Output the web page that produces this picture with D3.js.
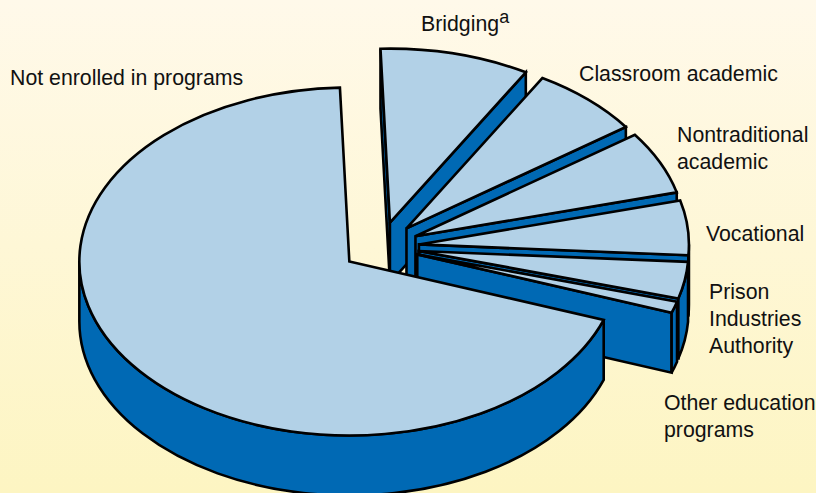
<!DOCTYPE html>
<html>
<head>
<meta charset="utf-8">
<script src="https://cdn.jsdelivr.net/npm/d3@7/dist/d3.min.js"></script>
<style>
  html, body { margin: 0; padding: 0; background: #fdf6c6; }
  svg { display: block; }
  text { font-family: "Liberation Sans", Arial, sans-serif; font-size: 21.3px; fill: #111; }
</style>
</head>
<body>
<svg id="chart" width="816" height="493"></svg>
<script>
// slices go clockwise, starting from the one just right of 12 o'clock
var categories = ["Bridging", "Classroom academic", "Nontraditional academic", "Vocational",
  "Prison Industries Authority", "Other education programs", "Not enrolled in programs"];
var shares = [8.95, 6.7, 5.85, 5.05, 3.4, 1.05, 69];

var labelLines = [["Bridging"], ["Classroom academic"], ["Nontraditional", "academic"], ["Vocational"],
  ["Prison", "Industries", "Authority"], ["Other education", "programs"], ["Not enrolled in programs"]];
var labelX = [421, 579, 677, 706, 709, 664, 10];
var labelY = [31, 81, 142, 241, 299, 410, 85];
var lineGap = [0, 0, 27, 0, 27, 27, 0];

var width = 816, height = 493;
var cx = 380.5, cy = 246.8;   // pie centre before the slices get pulled out
var rx = 270, ry = 174;
var depth = 60;
var explode = 0.143;
var startDeg = -2;
var lightBlue = "#b2d1e7", darkBlue = "#0069b4";

var svg = d3.select("#chart");

var grad = svg.append("defs").append("linearGradient")
  .attr("id", "bg").attr("x1", 0).attr("y1", 0).attr("x2", 0).attr("y2", 1);
grad.append("stop").attr("offset", "0%").attr("stop-color", "#fff9ea");
grad.append("stop").attr("offset", "100%").attr("stop-color", "#fdf5c2");

svg.append("rect").attr("width", width).attr("height", height).attr("fill", "url(#bg)");

var toRad = Math.PI / 180;
var pie = d3.pie().sort(null)
  .startAngle(startDeg * toRad)
  .endAngle((startDeg + 360) * toRad);
var slices = pie(shares);

var arc = d3.arc().innerRadius(0).outerRadius(rx);

function px(a, ox) { return ox + rx * Math.sin(a); }
function py(a, oy) { return oy - ry * Math.cos(a); }

// the angle may sit past a full turn (or below zero) so fold it for the side tests
function fold(a) {
  var t = 2 * Math.PI;
  return ((a % t) + t) % t;
}

function radialWall(a, ox, oy) {
  return "M" + ox + "," + oy +
    "L" + px(a, ox) + "," + py(a, oy) +
    "L" + px(a, ox) + "," + (py(a, oy) + depth) +
    "L" + ox + "," + (oy + depth) + "Z";
}

function outerWall(a0, a1, ox, oy) {
  var large = a1 - a0 > Math.PI ? 1 : 0;
  return "M" + px(a0, ox) + "," + py(a0, oy) +
    "A" + rx + "," + ry + " 0 " + large + " 1 " + px(a1, ox) + "," + py(a1, oy) +
    "L" + px(a1, ox) + "," + (py(a1, oy) + depth) +
    "A" + rx + "," + ry + " 0 " + large + " 0 " + px(a0, ox) + "," + (py(a0, oy) + depth) + "Z";
}

var g = svg.append("g")
  .attr("stroke", "#000")
  .attr("stroke-width", 2.6)
  .attr("stroke-linejoin", "miter");

// back to front, the big slice comes last
slices.forEach(function (d) {
  var mid = (d.startAngle + d.endAngle) / 2;
  var ox = cx + explode * rx * Math.sin(mid);
  var oy = cy - explode * ry * Math.cos(mid);
  var piece = g.append("g").attr("class", "slice");

  // end edge faces the viewer on the right half, start edge on the left half
  if (fold(d.startAngle) > Math.PI) {
    piece.append("path").attr("d", radialWall(d.startAngle, ox, oy)).attr("fill", darkBlue);
  }
  if (fold(d.endAngle) < Math.PI) {
    piece.append("path").attr("d", radialWall(d.endAngle, ox, oy)).attr("fill", darkBlue);
  }

  var a0 = Math.max(d.startAngle, Math.PI / 2);
  var a1 = Math.min(d.endAngle, 3 * Math.PI / 2);
  if (a1 > a0) {
    piece.append("path").attr("d", outerWall(a0, a1, ox, oy)).attr("fill", darkBlue);
  }

  piece.append("path")
    .attr("d", arc(d))
    .attr("transform", "translate(" + ox + "," + oy + ") scale(1," + (ry / rx) + ")")
    .attr("vector-effect", "non-scaling-stroke")
    .attr("fill", lightBlue);
});

var labels = svg.append("g").attr("class", "labels");
categories.forEach(function (name, i) {
  var t = labels.append("text").attr("x", labelX[i]).attr("y", labelY[i]);
  labelLines[i].forEach(function (line, k) {
    t.append("tspan")
      .attr("x", labelX[i])
      .attr("dy", k === 0 ? 0 : lineGap[i])
      .text(line);
  });
  if (name === "Bridging") {
    t.append("tspan").attr("dy", -8).attr("font-size", 18).text("a");
  }
});
</script>
</body>
</html>
